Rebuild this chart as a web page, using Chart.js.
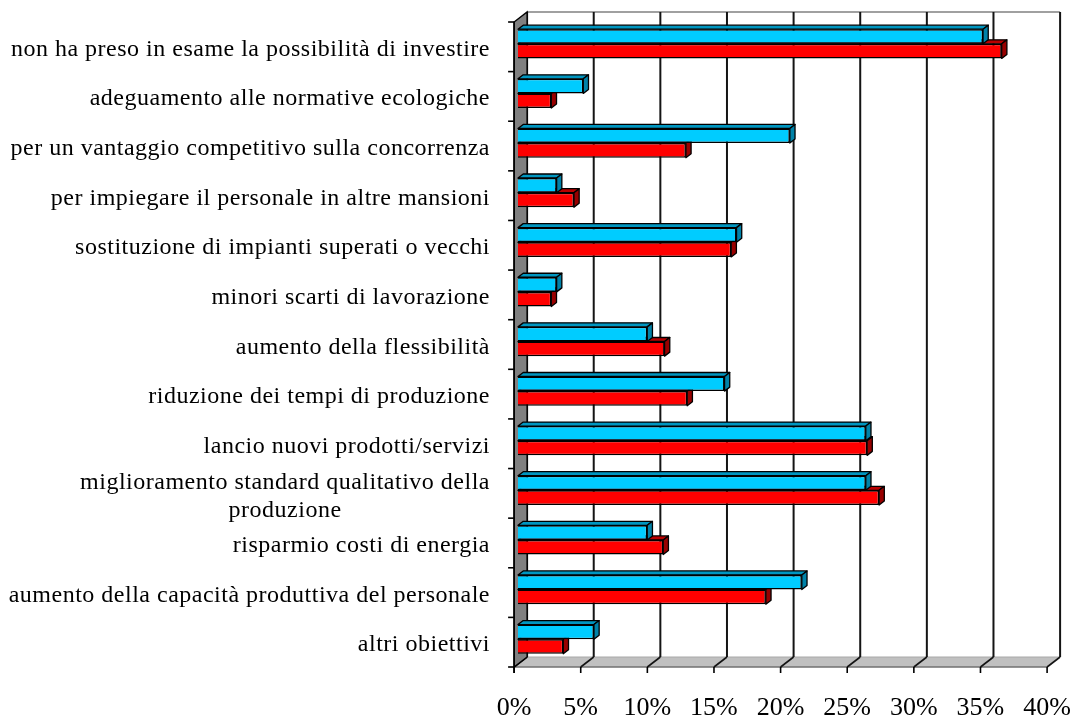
<!DOCTYPE html>
<html>
<head>
<meta charset="utf-8">
<script src="https://cdn.jsdelivr.net/npm/chart.js@4/dist/chart.umd.min.js"></script>
<style>
  html, body { margin: 0; padding: 0; background: #fff; }
  canvas { display: block; }
</style>
</head>
<body>
<canvas id="chart" width="1075" height="724"></canvas>
<script>
// Obiettivi degli investimenti (quota di imprese, %)
const categories = [
  'non ha preso in esame la possibilità di investire',
  'adeguamento alle normative ecologiche',
  'per un vantaggio competitivo sulla concorrenza',
  'per impiegare il personale in altre mansioni',
  'sostituzione di impianti superati o vecchi',
  'minori scarti di lavorazione',
  'aumento della flessibilità',
  'riduzione dei tempi di produzione',
  'lancio nuovi prodotti/servizi',
  ['miglioramento standard qualitativo della', 'produzione'],
  'risparmio costi di energia',
  'aumento della capacità produttiva del personale',
  'altri obiettivi'
];
const seriesBlue = [34.9, 4.9, 20.4, 2.9, 16.4, 2.9, 9.7, 15.5, 26.1, 26.1, 9.7, 21.3, 5.7];
const seriesRed  = [36.3, 2.5, 12.6, 4.2, 16.0, 2.5, 11.0, 12.7, 26.2, 27.1, 10.9, 18.6, 3.4];
const xTickValues = [0, 5, 10, 15, 20, 25, 30, 35, 40];

const FONT = '"Liberation Serif", "Times New Roman", serif';

// oblique projection of the box: full depth runs up and to the right
const wall = { dx: 13, dy: -10 };
const barFront = 0.3;   // bars start 30% into the depth
const barDepth = 0.4;   // and take 40% of it

const shade = {
  blue: { front: '#00CCFF', top: '#0096C0', side: '#0082A8' },
  red:  { front: '#FF0000', top: '#B80000', side: '#980000' }
};

function poly(ctx, pts, fill, stroke, lw) {
  ctx.beginPath();
  ctx.moveTo(pts[0][0], pts[0][1]);
  for (let i = 1; i < pts.length; i++) ctx.lineTo(pts[i][0], pts[i][1]);
  ctx.closePath();
  if (fill) { ctx.fillStyle = fill; ctx.fill(); }
  if (stroke) { ctx.strokeStyle = stroke; ctx.lineWidth = lw || 1; ctx.stroke(); }
}

function line(ctx, x1, y1, x2, y2, color, lw) {
  ctx.beginPath();
  ctx.moveTo(x1, y1);
  ctx.lineTo(x2, y2);
  ctx.strokeStyle = color;
  ctx.lineWidth = lw;
  ctx.stroke();
}

const box3d = {
  id: 'box3d',
  beforeDatasetsDraw(chart) {
    const { ctx, chartArea: a, scales: { x, y } } = chart;
    const fx = -barFront * wall.dx, fy = -barFront * wall.dy;          // to front plane
    const bx = (1 - barFront) * wall.dx, by = (1 - barFront) * wall.dy; // to back plane
    const x0 = x.getPixelForValue(0), x1 = x.getPixelForValue(40);
    const top = a.top, bottom = a.bottom;
    const band = (bottom - top) / categories.length;

    ctx.save();
    // back wall
    poly(ctx, [[x0 + bx, top + by], [x1 + bx, top + by], [x1 + bx, bottom + by], [x0 + bx, bottom + by]], '#FFFFFF');
    line(ctx, x0 + bx, top + by, x1 + bx, top + by, '#A0A0A0', 2);

    // floor
    poly(ctx, [[x0 + fx, bottom + fy], [x1 + fx, bottom + fy], [x1 + bx, bottom + by], [x0 + bx, bottom + by]], '#C0C0C0');
    line(ctx, x0 + bx, bottom + by, x1 + bx, bottom + by, '#A8A8A8', 1);
    line(ctx, x0 + fx, bottom + fy, x1 + fx, bottom + fy, '#707070', 1.5);

    // gridlines on the back wall, continued across the floor
    xTickValues.forEach(v => {
      const px = x.getPixelForValue(v);
      line(ctx, px + bx, top + by, px + bx, bottom + by, '#141414', 2);
      line(ctx, px + bx, bottom + by, px + fx, bottom + fy, '#141414', 1.6);
    });

    // left wall
    poly(ctx, [[x0 + fx, top + fy], [x0 + bx, top + by], [x0 + bx, bottom + by], [x0 + fx, bottom + fy]], '#808080', '#000000', 1.4);

    // category axis with tick marks
    line(ctx, x0 + fx, top + fy, x0 + fx, bottom + fy + 6, '#000000', 1.6);
    for (let k = 0; k <= categories.length; k++) {
      const ty = top + k * band + fy;
      line(ctx, x0 + fx - 6, ty, x0 + fx, ty, '#000000', 1.6);
    }
    // value axis tick marks
    xTickValues.forEach(v => {
      const px = x.getPixelForValue(v) + fx;
      line(ctx, px, bottom + fy, px, bottom + fy + 6, '#000000', 1.6);
    });

    // category labels: right-aligned block, wrapped lines centred in it
    ctx.fillStyle = '#000000';
    ctx.font = '24px ' + FONT;
    ctx.letterSpacing = '0.5px';
    ctx.textBaseline = 'alphabetic';
    ctx.textAlign = 'left';
    const labelRight = 490, lh = 28;
    categories.forEach((lab, i) => {
      const lines = Array.isArray(lab) ? lab : [lab];
      const widths = lines.map(s => ctx.measureText(s).width);
      const w = Math.max(...widths);
      const cx = labelRight - w / 2;
      const cy = y.getPixelForValue(i) + fy;
      lines.forEach((s, j) => {
        ctx.fillText(s, cx - widths[j] / 2, cy + 9 - (lines.length - 1) * 13 + j * lh);
      });
    });
    ctx.restore();
  },
  // top and side faces go underneath each dataset's front faces
  beforeDatasetDraw(chart, args) {
    const { ctx } = chart;
    const ds = chart.data.datasets[args.index];
    const dx = barDepth * wall.dx, dy = barDepth * wall.dy;
    ctx.save();
    ctx.lineJoin = 'round';
    args.meta.data.forEach(bar => {
      const p = bar.getProps(['x', 'y', 'base', 'height'], true);
      const l = Math.min(p.base, p.x), r = Math.max(p.base, p.x);
      const t = p.y - p.height / 2, b = p.y + p.height / 2;
      poly(ctx, [[l, t], [r, t], [r + dx, t + dy], [l + dx, t + dy]], ds.topColor, '#000000', 1.3);
      poly(ctx, [[r, t], [r, b], [r + dx, b + dy], [r + dx, t + dy]], ds.sideColor, '#000000', 1.3);
    });
    ctx.restore();
  }
};

new Chart(document.getElementById('chart'), {
  type: 'bar',
  data: {
    labels: categories,
    datasets: [
      {
        data: seriesBlue,
        backgroundColor: shade.blue.front,
        topColor: shade.blue.top,
        sideColor: shade.blue.side,
        borderColor: '#000000',
        borderWidth: 1.5
      },
      {
        data: seriesRed,
        backgroundColor: shade.red.front,
        topColor: shade.red.top,
        sideColor: shade.red.side,
        borderColor: '#000000',
        borderWidth: 1.5
      }
    ]
  },
  options: {
    indexAxis: 'y',
    responsive: false,
    animation: false,
    devicePixelRatio: 1,
    categoryPercentage: 0.59,
    barPercentage: 1.0,
    layout: { padding: { left: 518, right: 24, top: 19, bottom: 0 } },
    plugins: { legend: { display: false }, tooltip: { enabled: false } },
    scales: {
      y: { type: 'category', display: false },
      x: {
        type: 'linear',
        min: 0,
        max: 40,
        grid: { display: false, drawTicks: false },
        border: { display: false },
        ticks: {
          stepSize: 5,
          autoSkip: false,
          maxRotation: 0,
          padding: 29,
          labelOffset: -4,
          color: '#000000',
          font: { family: FONT, size: 26 },
          callback: v => v + '%'
        },
        afterFit(scale) {
          scale.height = 60;
          scale.paddingLeft = 0;
          scale.paddingRight = 0;
        }
      }
    }
  },
  plugins: [box3d]
});
</script>
</body>
</html>
